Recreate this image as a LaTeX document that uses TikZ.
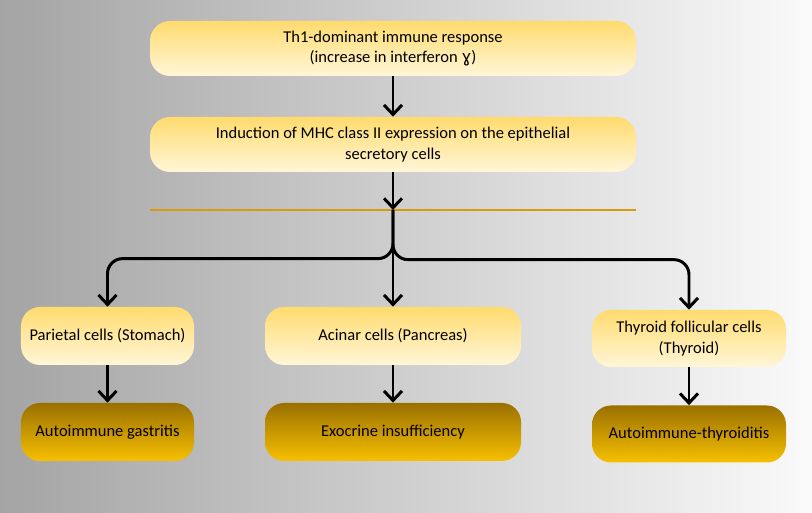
\documentclass[tikz,border=0pt]{standalone}
\usepackage{fontspec}
\setmainfont{Carlito}
\newfontfamily\symfont{DejaVu Sans}
\usepackage{xcolor}
\usetikzlibrary{arrows.meta}
\definecolor{bgdark}{HTML}{A4A4A4}
\definecolor{bglight}{HTML}{FAFAFA}
\definecolor{paleyellow}{HTML}{FFF6D8}
\definecolor{sunyellow}{HTML}{FFDB6E}
\definecolor{deepgold}{HTML}{9A7000}
\definecolor{brightgold}{HTML}{F7C000}
\definecolor{ruleorange}{HTML}{D99A0B}

\begin{document}
\begin{tikzpicture}[
  step box/.style={rounded corners=0.4cm, top color=sunyellow, bottom color=paleyellow,
                   align=center, inner sep=2pt, font=\fontsize{9.4}{11.6}\selectfont},
  cell/.style={step box, rounded corners=0.38cm},
  outcome/.style={cell, top color=deepgold, bottom color=brightgold},
  arrow/.style={-{Straight Barb[length=1.9mm,width=3.6mm,line width=1.7pt]}, line width=1.7pt, color=black}
]

% background
\fill[left color=bgdark, right color=bglight] (0,0) rectangle (16.24,-10.26);

\node[step box, minimum width=9.72cm, minimum height=1.1cm] (th1) at (7.86,-0.97)
  {Th1-dominant immune response\\(increase in interferon {\symfont ɣ})};
\node[step box, minimum width=9.72cm, minimum height=1.1cm] (mhc) at (7.86,-2.89)
  {Induction of MHC class II expression on the epithelial\\secretory cells};

\node[cell, minimum width=3.46cm, minimum height=1.16cm] (parietal) at (2.15,-6.72) {Parietal cells (Stomach)};
\node[cell, minimum width=5.12cm, minimum height=1.16cm] (acinar) at (7.86,-6.72) {Acinar cells (Pancreas)};
\node[cell, minimum width=3.88cm, minimum height=1.14cm] (thyroid) at (13.78,-6.77) {Thyroid follicular cells\\(Thyroid)};

\node[outcome, minimum width=3.46cm, minimum height=1.16cm] (gastritis) at (2.15,-8.64) {Autoimmune gastritis};
\node[outcome, minimum width=5.12cm, minimum height=1.16cm] (exocrine) at (7.86,-8.64) {Exocrine insufficiency};
\node[outcome, minimum width=3.88cm, minimum height=1.14cm] (thyroiditis) at (13.78,-8.68) {Autoimmune-thyroiditis};

% separator and branch point
\coordinate (ruleL) at (3.0,-4.2);
\coordinate (ruleR) at (12.72,-4.2);
\coordinate (split) at (7.86,-4.2);
\draw[ruleorange, line width=1pt] (ruleL) -- (ruleR);

\draw[arrow] (th1) -- (mhc);
\draw[arrow] (mhc) -- (split);
\draw[arrow, rounded corners=0.3cm] (split) |- ([yshift=0.96cm]parietal.north) -- (parietal);
\draw[arrow] (split) -- (acinar);
\draw[arrow, rounded corners=0.3cm] (split) |- ([yshift=1.0cm]thyroid.north) -- (thyroid);

\draw[arrow] (parietal) -- (gastritis);
\draw[arrow] (acinar) -- (exocrine);
\draw[arrow] (thyroid) -- (thyroiditis);
\end{tikzpicture}
\end{document}
